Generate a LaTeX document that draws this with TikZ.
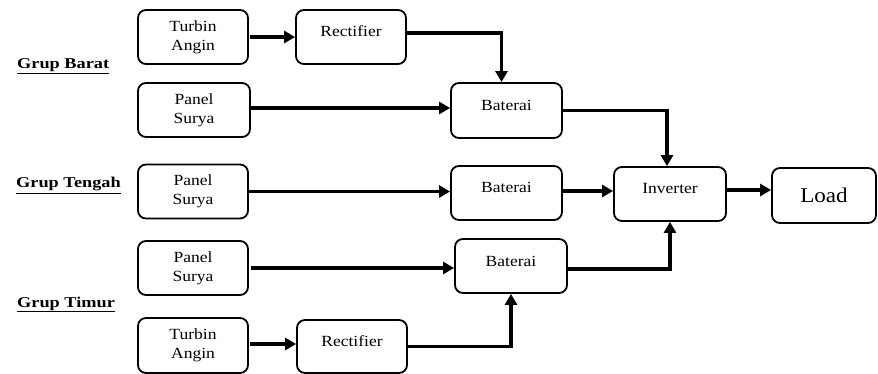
\documentclass[tikz,border=0pt]{standalone}
\usepackage{fontspec}
\setmainfont{Liberation Serif}
\newfontfamily\boxfont[FakeStretch=1.13]{Liberation Serif}
\newfontfamily\grpfont[FakeStretch=1.22]{Liberation Serif}
\newfontfamily\loadfont[FakeStretch=1.1]{Liberation Serif}
\usetikzlibrary{arrows.meta}
\tikzset{
  blk/.style={draw, line width=1.8pt, rounded corners=8pt, minimum width=110pt, minimum height=54pt,
    inner sep=0pt, align=center, font=\boxfont\fontsize{15.5}{19}\selectfont},
  one/.style={text height=6pt, text depth=6pt},
  grp/.style={anchor=base west, inner sep=0pt, font=\grpfont\bfseries\fontsize{15}{18}\selectfont},
  arr/.style={line width=3.2pt, -{Triangle[length=11pt,width=12pt]}},
}
\begin{document}
\begin{tikzpicture}[x=1pt,y=-1pt]
\useasboundingbox (0,0) rectangle (878,374);
% labels
\node[grp] (gb) at (17,69) {\underline{Grup Barat}};
\node[grp] (gt) at (16,188) {\underline{Grup Tengah}};
\node[grp] (gm) at (17,307) {\underline{Grup Timur}};
% boxes
\node[blk] (ta1) at (193,37) {Turbin\\Angin};
\node[blk, one] (rec1) at (351,37) {Rectifier};
\node[blk, minimum width=112pt] (ps1) at (194,110) {Panel\\Surya};
\node[blk, one, minimum width=111pt, minimum height=55pt] (bat1) at (506.5,110.5) {Baterai};
\node[blk] (ps2) at (193,191.5) {Panel\\Surya};
\node[blk, one, minimum width=111pt] (bat2) at (506.5,193) {Baterai};
\node[blk, one, minimum width=112pt] (inv) at (670,194) {Inverter};
\node[blk, minimum width=104pt, minimum height=55pt, font=\loadfont\fontsize{21}{24}\selectfont] (load) at (824,195.5) {Load};
\node[blk] (ps3) at (193,268) {Panel\\Surya};
\node[blk, one, minimum width=112pt] (bat3) at (511,266) {Baterai};
\node[blk, minimum height=55pt] (ta2) at (193,345.5) {Turbin\\Angin};
\node[blk, one, minimum height=53pt] (rec2) at (352,346.5) {Rectifier};
% arrows
\draw[arr] ([xshift=1pt]ta1.east) -- (ta1.east -| rec1.west);
\draw[arr] ([yshift=4pt]rec1.east) -| ([xshift=-5pt]bat1.north);
\draw[arr] ([yshift=2pt]ps1.east) -- ([yshift=2pt]ps1.east -| bat1.west);
\draw[arr] (bat1.east) -| ([xshift=-3pt]inv.north);
\draw[arr] (ps2.east) -- (ps2.east -| bat2.west);
\draw[arr] ([yshift=2pt]bat2.east) -- ([yshift=2pt]bat2.east -| inv.west);
\draw[arr] ([yshift=4pt]inv.east) -- ([yshift=4pt]inv.east -| load.west);
\draw[arr] ([xshift=2pt]ps3.east) -- (ps3.east -| bat3.west);
\draw[arr] ([yshift=-3pt]bat3.east) -| (inv.south);
\draw[arr] ([yshift=1.5pt,xshift=1pt]ta2.east) -- ([yshift=1.5pt]ta2.east -| rec2.west);
\draw[arr] (rec2.east) -| (bat3.south);
\end{tikzpicture}
\end{document}
